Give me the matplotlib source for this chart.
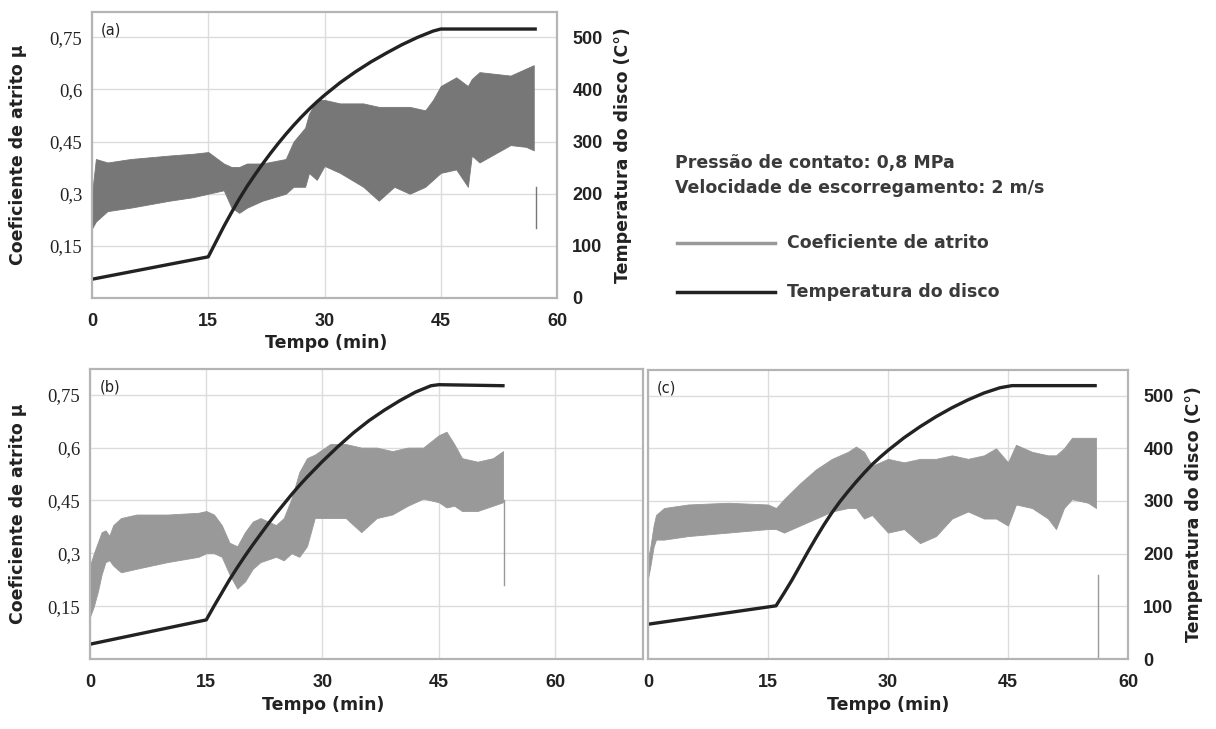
import matplotlib
matplotlib.use("Agg")
import matplotlib.pyplot as plt
from matplotlib.lines import Line2D

W, H = 1216, 729

# temperatura do disco (C) x tempo (min)
ta_T = [0, 15, 16, 17, 18, 19, 20, 21, 22, 23, 24, 25, 26, 27, 28, 29, 30, 32, 34, 36, 38, 40, 42, 44, 45, 57.4]
Ta = [36, 79, 108, 137, 164, 190, 214, 236, 257, 277, 296, 314, 331, 347, 362, 376, 389, 413, 434, 453, 470, 486, 500, 512, 516, 516]
tb_T = [0, 15, 16, 17, 18, 19, 20, 21, 22, 23, 24, 25, 26, 27, 28, 29, 30, 32, 34, 36, 38, 40, 42, 44, 45, 53.5]
Tb = [28, 74, 100, 125, 150, 173, 195, 216, 236, 256, 275, 293, 311, 328, 344, 359, 374, 402, 428, 451, 471, 489, 505, 517, 519, 517]
tc_T = [0, 16, 17, 18, 19, 20, 21, 22, 23, 24, 25, 26, 27, 28, 29, 30, 32, 34, 36, 38, 40, 42, 44, 45.5, 56.1]
Tc = [66, 101, 125, 150, 177, 204, 230, 255, 278, 299, 318, 336, 353, 369, 383, 396, 420, 441, 460, 477, 492, 505, 515, 519, 519]

# coeficiente de atrito: envelope inferior / superior da faixa
ta_mu = [0, 0.5, 2, 5, 10, 13, 15, 17, 18, 19, 20, 22, 25, 26, 27.5, 28, 29, 30, 32, 35, 37, 39, 41, 43, 44, 45, 47, 48.5, 49, 50, 52, 54, 56, 57]
lo_a = [0.20, 0.22, 0.25, 0.26, 0.28, 0.29, 0.30, 0.31, 0.26, 0.245, 0.26, 0.28, 0.30, 0.32, 0.32, 0.36, 0.34, 0.38, 0.36, 0.32, 0.28, 0.32, 0.30, 0.32, 0.34, 0.36, 0.37, 0.32, 0.41, 0.39, 0.415, 0.44, 0.435, 0.425]
hi_a = [0.30, 0.40, 0.39, 0.40, 0.41, 0.415, 0.42, 0.387, 0.377, 0.377, 0.387, 0.387, 0.40, 0.45, 0.49, 0.53, 0.57, 0.57, 0.56, 0.56, 0.55, 0.55, 0.55, 0.54, 0.57, 0.61, 0.635, 0.61, 0.63, 0.65, 0.645, 0.64, 0.66, 0.67]
tb_mu = [0, 0.5, 1, 1.5, 2, 2.5, 3, 4, 6, 10, 14, 15, 16, 17, 18, 19, 20, 21, 22, 24, 25, 26, 27, 28, 29, 31, 33, 35, 37, 39, 41, 43, 45, 46, 47, 48, 50, 52, 53.3]
lo_b = [0.12, 0.15, 0.19, 0.24, 0.275, 0.28, 0.265, 0.246, 0.256, 0.275, 0.29, 0.30, 0.30, 0.29, 0.24, 0.20, 0.22, 0.256, 0.275, 0.29, 0.28, 0.30, 0.29, 0.32, 0.40, 0.40, 0.40, 0.36, 0.40, 0.41, 0.435, 0.455, 0.445, 0.43, 0.435, 0.42, 0.42, 0.435, 0.445]
hi_b = [0.265, 0.30, 0.33, 0.36, 0.365, 0.35, 0.38, 0.40, 0.41, 0.41, 0.415, 0.42, 0.41, 0.38, 0.33, 0.32, 0.36, 0.39, 0.40, 0.38, 0.40, 0.455, 0.53, 0.57, 0.58, 0.61, 0.61, 0.60, 0.60, 0.59, 0.60, 0.60, 0.635, 0.645, 0.61, 0.57, 0.56, 0.57, 0.59]
tc_mu = [0, 0.3, 0.7, 1, 2, 5, 10, 15, 16, 17, 19, 21, 23, 25, 26, 27, 28, 30, 32, 34, 36, 38, 40, 42, 43.5, 45, 46, 48, 50, 51, 52, 53, 55, 56]
lo_c = [0.23, 0.265, 0.32, 0.34, 0.34, 0.35, 0.36, 0.37, 0.37, 0.36, 0.38, 0.40, 0.42, 0.43, 0.43, 0.40, 0.41, 0.36, 0.37, 0.33, 0.35, 0.40, 0.42, 0.40, 0.40, 0.38, 0.44, 0.43, 0.40, 0.37, 0.43, 0.455, 0.445, 0.43]
hi_c = [0.285, 0.32, 0.38, 0.41, 0.43, 0.44, 0.445, 0.44, 0.43, 0.455, 0.50, 0.54, 0.57, 0.59, 0.605, 0.59, 0.55, 0.57, 0.56, 0.57, 0.57, 0.58, 0.57, 0.58, 0.60, 0.56, 0.61, 0.59, 0.58, 0.58, 0.60, 0.63, 0.63, 0.63]

# queda final do sinal de atrito (tempo, de, ate)
drop_a = [57.3, 0.32, 0.20]
drop_b = [53.4, 0.45, 0.21]
drop_c = [56.2, 0.24, 0.0]

mu_ticks = [0.15, 0.3, 0.45, 0.6, 0.75]
mu_labels = ["0,15", "0,3", "0,45", "0,6", "0,75"]
T_ticks = [0, 100, 200, 300, 400, 500]
x_ticks = [0, 15, 30, 45, 60]

fig = plt.figure(figsize=(W / 100, H / 100), dpi=100)
frame = "#b4b4b4"
gridc = "#dcdcdc"
dark = "#222222"
num_font = dict(fontsize=13, fontweight="bold", family="Liberation Sans", color=dark)
lab_font = dict(fontsize=12.5, fontweight="bold", color=dark, va="center")


def px(x0, y0, x1, y1):
    return [x0 / W, 1 - y1 / H, (x1 - x0) / W, (y1 - y0) / H]


def panel(rect, xmax, t_mu, lo, hi, drop, tT, T, band, tag, left=True, right=True):
    ax = fig.add_axes(rect)
    ax2 = ax.twinx()
    ax.fill_between(t_mu, lo, hi, color=band, lw=0.6, edgecolor=band)
    ax.plot([drop[0], drop[0]], [drop[1], drop[2]], color=band, lw=1)
    ax2.plot(tT, T, color=dark, lw=2.4, solid_capstyle="butt")
    ax.set_xlim(0, xmax)
    ax.set_ylim(0, 0.823)
    ax2.set_ylim(0, 0.823 / 0.75 * 500)
    ax.set_xticks(x_ticks)
    ax.set_xticklabels([str(v) for v in x_ticks], **num_font)
    ax.set_yticks(mu_ticks)
    ax.grid(True, color=gridc, lw=1)
    ax.set_axisbelow(True)
    ax.tick_params(length=0, pad=11, axis="x")
    ax.tick_params(length=0, pad=7, axis="y")
    ax2.tick_params(length=0, pad=11)
    if left:
        ax.set_yticklabels(mu_labels, fontsize=13.5, family="Liberation Serif", color=dark)
        ax.set_ylabel("Coeficiente de atrito μ", **lab_font)
    else:
        ax.set_yticklabels([])
    if right:
        ax2.set_yticks(T_ticks)
        ax2.set_yticklabels([str(v) for v in T_ticks], **num_font)
        ax2.set_ylabel("Temperatura do disco (C°)", **lab_font)
    else:
        ax2.set_yticks([])
    ax.set_xlabel("Tempo (min)", **lab_font)
    for a in (ax, ax2):
        for s in a.spines.values():
            s.set_color(frame)
            s.set_linewidth(1.5)
    ax.text(0.018, 0.965, tag, transform=ax.transAxes, fontsize=10.5, color=dark, va="top")
    return ax, ax2


# (a)
ax, ax2 = panel(px(92, 12, 557, 298), 60, ta_mu, lo_a, hi_a, drop_a, ta_T, Ta, "#777777", "(a)")
ax.yaxis.set_label_coords(-0.159, 0.5)
ax2.yaxis.set_label_coords(1.142, 0.5)
ax.xaxis.set_label_coords(0.503, -0.157)

# (b)
ax, ax2 = panel(px(90, 369, 643, 659), 60 * 553 / 465, tb_mu, lo_b, hi_b, drop_b, tb_T, Tb, "#999999", "(b)", right=False)
ax.yaxis.set_label_coords(-0.130, 0.5)
ax.xaxis.set_label_coords(0.421, -0.16)

# (c)
ax, ax2 = panel(px(648, 370, 1128, 659), 60, tc_mu, lo_c, hi_c, drop_c, tc_T, Tc, "#999999", "(c)", left=False)
ax2.yaxis.set_label_coords(1.1375, 0.5)
ax.xaxis.set_label_coords(0.5, -0.16)

# legenda / condicoes de ensaio
tcol = "#3a3a3a"
leg_font = dict(fontsize=12.5, fontweight="bold", color=tcol, va="center")
fig.text(675 / W, 1 - 163 / H, "Pressão de contato: 0,8 MPa", **leg_font)
fig.text(675 / W, 1 - 188 / H, "Velocidade de escorregamento: 2 m/s", **leg_font)
fig.add_artist(Line2D([677 / W, 775 / W], [1 - 243 / H, 1 - 243 / H], color="#999999", lw=2.5))
fig.add_artist(Line2D([677 / W, 775 / W], [1 - 292 / H, 1 - 292 / H], color=dark, lw=2.5))
fig.text(787 / W, 1 - 243 / H, "Coeficiente de atrito", **leg_font)
fig.text(787 / W, 1 - 292 / H, "Temperatura do disco", **leg_font)

fig.savefig("out.png", dpi=100)
